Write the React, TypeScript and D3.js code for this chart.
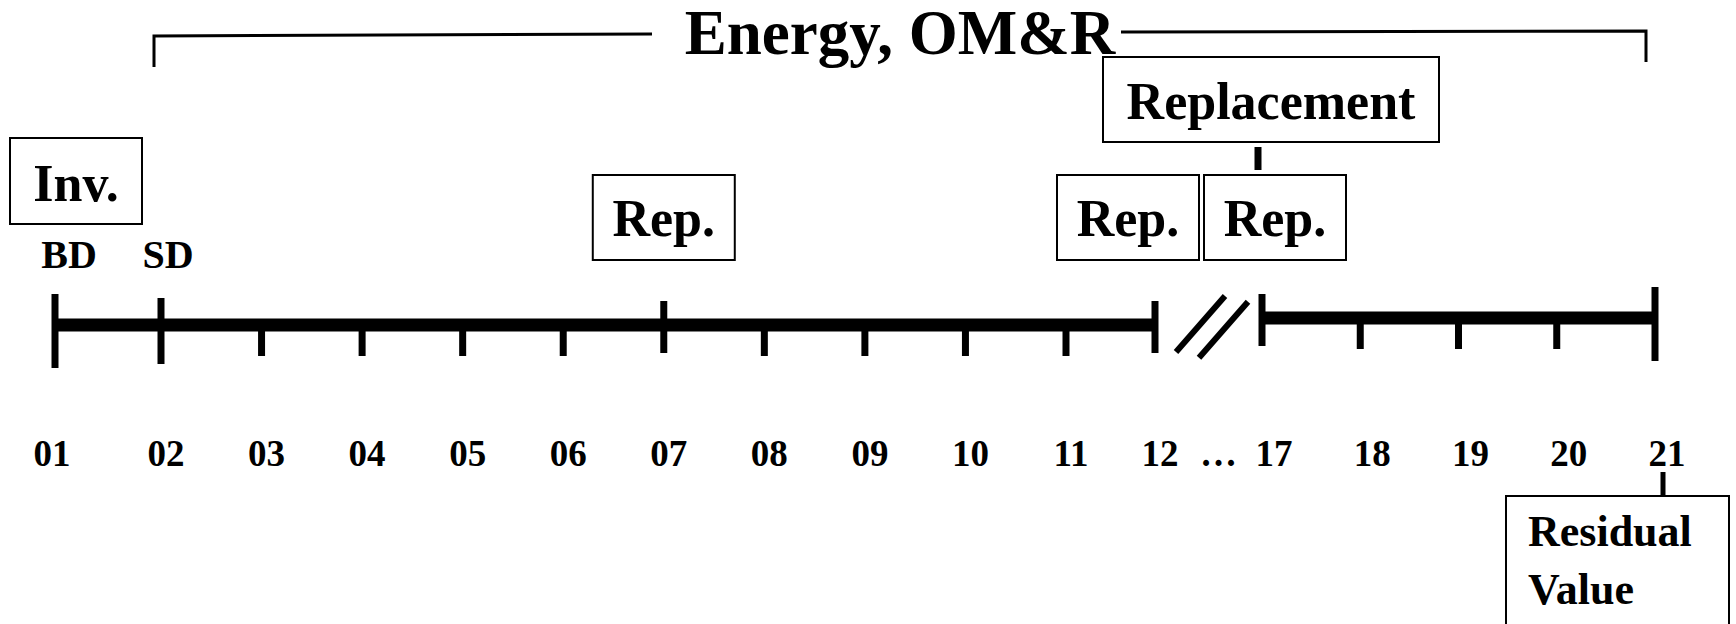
import React, { useEffect } from "react";
import * as d3 from "d3";

// timeline years (the axis is broken between 12 and 17)
const years = ["01", "02", "03", "04", "05", "06", "07", "08", "09", "10", "11", "12", "17", "18", "19", "20", "21"];
const firstSpan = ["01", "02", "03", "04", "05", "06", "07", "08", "09", "10", "11", "12"];
const secondSpan = ["17", "18", "19", "20", "21"];
const majorYears = ["01", "02", "07", "12", "17", "21"];
const milestones = [
  { label: "BD", year: "01" },
  { label: "SD", year: "02" },
];
const investYear = "01";
const repYears = ["07", "12", "17"];
const titleText = "Energy, OM&R";
const groupText = "Replacement";
const residualLines = ["Residual", "Value"];
const gapLabel = "…";

const W = 1736;
const H = 624;
const FONT = "'Liberation Serif', 'Times New Roman', serif";

const App: React.FC = () => {
  useEffect(() => {
    document.body.style.margin = "0";
  }, []);

  // first side: slightly wider first/last step, as drawn in the original
  const xA = d3.scaleLinear().domain([1, 2, 11, 12]).range([55, 161, 1066, 1155]);
  const xB = d3.scalePoint<string>().domain(secondSpan).range([1262, 1655]);
  const px = (y: string) => (secondSpan.includes(y) ? (xB(y) as number) : xA(+y));

  const yA = 325; // first segment axis
  const yB = 318; // second segment axis
  const segY = (y: string) => (secondSpan.includes(y) ? yB : yA);

  // bracket over the operating years
  const bl = px("02") - 7;
  const br = px("21") - 9;
  const mid = (bl + br) / 2;
  const titleHalf = 219;

  const repBoxW = 142;
  const repBoxes = repYears.map((y, i) => {
    let left = px(y) - 71;
    if (i === 1) left = px(y) + 44 - repBoxW;
    if (i === 2) left = px(y) - 58;
    return { year: y, left };
  });

  const labelX = (y: string, i: number) => {
    if (i === 0) return px(y) - 3;
    if (secondSpan.includes(y)) return px(y) + 12;
    return px(y) + 5;
  };

  return (
    <svg width={W} height={H} style={{ display: "block", background: "#fff" }} fontFamily={FONT} fontWeight="bold">
      {/* bracket + title */}
      <path d={`M${bl},67 V36 L${mid - titleHalf - 29},34`} fill="none" stroke="#000" strokeWidth={3} />
      <path d={`M${mid + titleHalf + 2},32 L${br},31 V62`} fill="none" stroke="#000" strokeWidth={3} />
      <text x={mid} y={54} textAnchor="middle" fontSize={63}>
        {titleText}
      </text>

      {/* replacement group box */}
      <rect x={px("17") + 9 - 168} y={57} width={336} height={85} fill="#fff" stroke="#000" strokeWidth={2} />
      <text x={px("17") + 9} y={119} textAnchor="middle" fontSize={52}>
        {groupText}
      </text>
      <line x1={px("17") - 4} x2={px("17") - 4} y1={147} y2={170} stroke="#000" strokeWidth={7} />

      {/* investment box */}
      <rect x={px(investYear) - 45} y={138} width={132} height={86} fill="#fff" stroke="#000" strokeWidth={2} />
      <text x={px(investYear) + 21} y={201} textAnchor="middle" fontSize={52}>
        Inv.
      </text>

      {/* replacement boxes */}
      {repBoxes.map((b) => (
        <g key={b.year}>
          <rect x={b.left} y={175} width={repBoxW} height={85} fill="#fff" stroke="#000" strokeWidth={2} />
          <text x={b.left + repBoxW / 2} y={236} textAnchor="middle" fontSize={52}>
            Rep.
          </text>
        </g>
      ))}

      {/* milestones */}
      {milestones.map((m, i) => (
        <text key={m.label} x={px(m.year) + (i === 0 ? 14 : 7)} y={268} textAnchor="middle" fontSize={40}>
          {m.label}
        </text>
      ))}

      {/* axis segments */}
      <line x1={px(firstSpan[0])} x2={px(firstSpan[firstSpan.length - 1])} y1={yA} y2={yA} stroke="#000" strokeWidth={13} />
      <line x1={px(secondSpan[0])} x2={px(secondSpan[secondSpan.length - 1])} y1={yB} y2={yB} stroke="#000" strokeWidth={13} />

      {/* ticks */}
      {years.map((y) => {
        const cy = segY(y);
        const isMajor = majorYears.includes(y);
        const isEnd = y === years[0] || y === years[years.length - 1];
        const isMile = milestones.some((m) => m.year === y);
        let top = cy;
        let bottom = cy + 31;
        if (isMajor) {
          top = cy - (isEnd ? 31 : isMile ? 27 : 24);
          bottom = cy + (isEnd ? 43 : isMile ? 39 : 28);
        }
        return <line key={y} x1={px(y)} x2={px(y)} y1={top} y2={bottom} stroke="#000" strokeWidth={7} />;
      })}

      {/* axis break */}
      {[0, 23].map((d) => (
        <line
          key={d}
          x1={px("12") + 21 + d}
          y1={352 + d / 4}
          x2={px("12") + 70 + d}
          y2={296 + d / 4}
          stroke="#000"
          strokeWidth={6}
        />
      ))}

      {/* year labels */}
      {years.map((y, i) => (
        <text key={y} x={labelX(y, i)} y={466} textAnchor="middle" fontSize={37}>
          {y}
        </text>
      ))}
      <text x={(px("12") + px("17")) / 2 + 10} y={466} textAnchor="middle" fontSize={37}>
        {gapLabel}
      </text>

      {/* residual value */}
      <line x1={px("21") + 8} x2={px("21") + 8} y1={472} y2={496} stroke="#000" strokeWidth={5} />
      <rect x={px("21") - 149} y={496} width={223} height={150} fill="#fff" stroke="#000" strokeWidth={2} />
      {residualLines.map((t, i) => (
        <text key={t} x={px("21") - 127} y={546 + i * 58} fontSize={44}>
          {t}
        </text>
      ))}
    </svg>
  );
};

export default App;
